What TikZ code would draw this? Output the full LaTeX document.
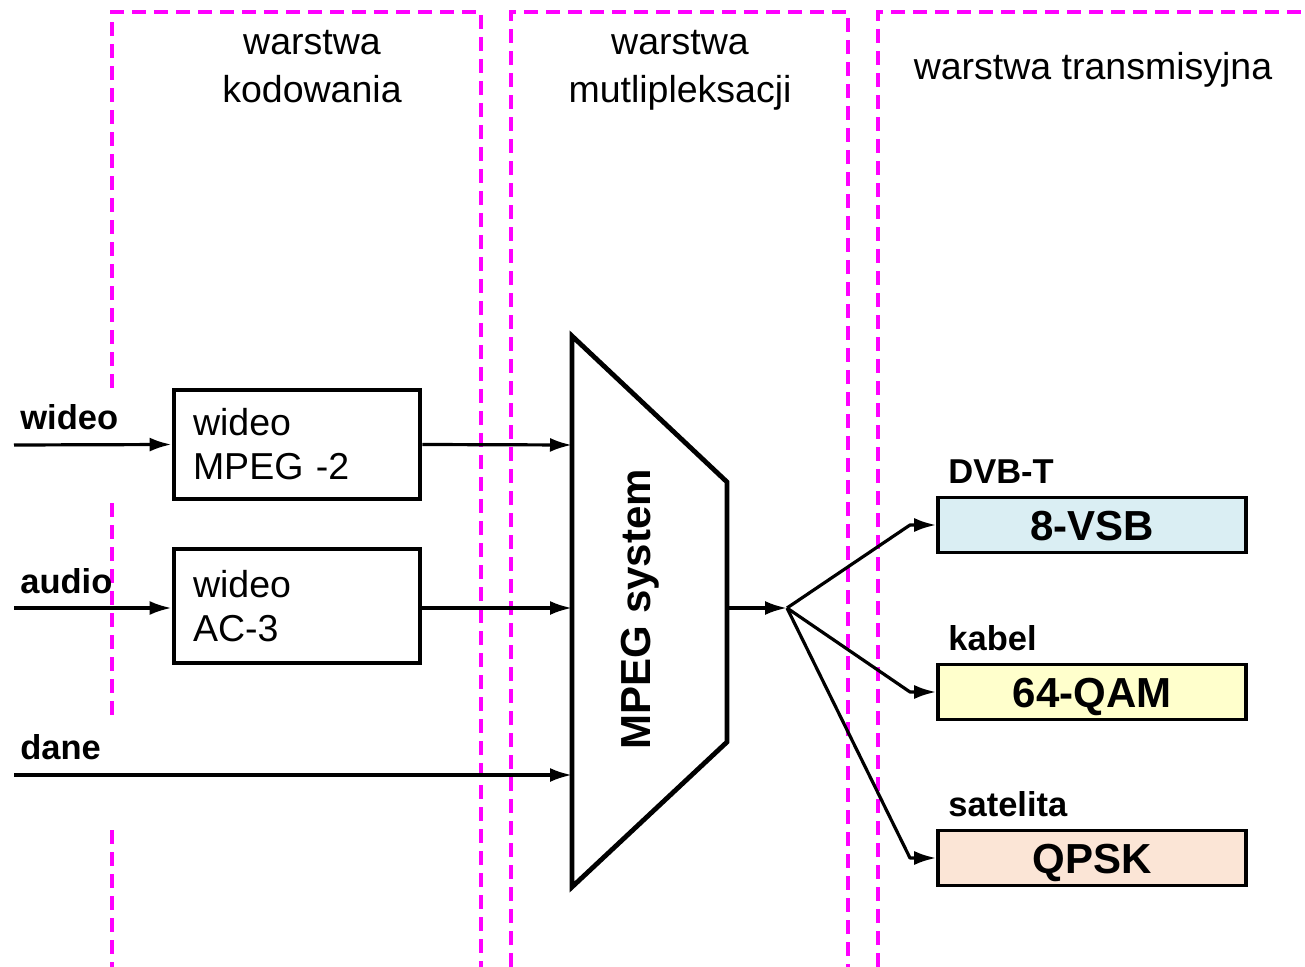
\documentclass[tikz,border=0pt]{standalone}
\usepackage{fontspec}
\setmainfont{Liberation Sans}
\usetikzlibrary{arrows.meta}
\definecolor{layerline}{RGB}{255,0,255}
\definecolor{vsbfill}{RGB}{218,238,243}
\definecolor{qamfill}{RGB}{255,255,204}
\definecolor{qpskfill}{RGB}{251,229,214}
\begin{document}
\begin{tikzpicture}[x=0.5pt,y=-0.5pt,
  layer/.style={draw=layerline, line width=1.8pt, dash pattern=on 7pt off 4pt},
  conn/.style={line width=1.6pt, line join=round, -{Latex[length=11pt,width=7pt]}},
  header/.style={font=\fontsize{18.75pt}{22pt}\selectfont, inner sep=0pt, anchor=base},
  inlabel/.style={font=\fontsize{17.25pt}{20pt}\selectfont\bfseries, inner sep=0pt, anchor=base west},
  coder/.style={draw, line width=2.4pt, text width=104pt, inner xsep=9.5pt, align=left,
    minimum width=123pt, font=\fontsize{18.75pt}{22pt}\selectfont},
  modbox/.style={draw, line width=1.8pt, minimum width=154pt, minimum height=27.5pt,
    inner sep=0pt, text height=15pt, text depth=0pt,
    font=\fontsize{21pt}{24pt}\selectfont\bfseries},
]
\useasboundingbox (0,0) rectangle (1305,967);

% layer frames
\draw[layer] (112,388) -- (112,12) -- (481,12) -- (481,967);
\draw[layer] (112,503) -- (112,722);
\draw[layer] (112,830) -- (112,967);
\draw[layer] (511,967) -- (511,12) -- (848,12) -- (848,967);
\draw[layer] (878,967) -- (878,12) -- (1305,12);

% layer titles
\node[header] (h1a) at (312,55) {warstwa};
\node[header] (h1b) at (312,103) {kodowania};
\node[header] (h2a) at (680,55) {warstwa};
\node[header] (h2b) at (680,103) {mutlipleksacji};
\node[header] (h3) at (1093,80) {warstwa transmisyjna};

% input labels
\node[inlabel] (lw) at (20,430) {wideo};
\node[inlabel] (la) at (20,593) {audio};
\node[inlabel] (ld) at (20,759) {dane};

% coders
\node[coder, minimum height=54.5pt] (cod1) at (297,444.5) {wideo\\MPEG -2};
\node[coder, minimum height=57pt] (cod2) at (297,606) {wideo\\AC-3};

% multiplexer
\draw[line width=2.4pt, line join=miter] (572,336) -- (727,482) -- (727,742) -- (572,887) -- cycle;
\node[font=\fontsize{21pt}{24pt}\selectfont\bfseries, rotate=90, anchor=base, inner sep=0pt] (mux) at (650,609) {MPEG system};
\coordinate (mx1) at (572,445);
\coordinate (mx2) at (572,608);
\coordinate (mx3) at (572,775);
\coordinate (mxo) at (727,608);
\coordinate (fan) at (787,608);

% inputs
\coordinate (in1) at (14,445);
\coordinate (in2) at (14,608);
\coordinate (in3) at (14,775);

% modulators
\node[modbox, fill=vsbfill] (vsb) at (1092,525) {8-VSB};
\node[modbox, fill=qamfill] (qam) at (1092,692) {64-QAM};
\node[modbox, fill=qpskfill] (qpsk) at (1092,858) {QPSK};
\node[inlabel] (lt) at (948,484) {DVB-T};
\node[inlabel] (lk) at (948,650) {kabel};
\node[inlabel] (ls) at (948,816) {satelita};
\coordinate (b1) at (910,525);
\coordinate (b2) at (910,692);
\coordinate (b3) at (910,858);

% connectors
\draw[conn] (in1) -- (cod1.west);
\draw[conn] (in2) -- (cod2.west |- in2);
\draw[conn] (cod1.east) -- (mx1);
\draw[conn] (cod2.east |- mx2) -- (mx2);
\draw[conn] (in3) -- (mx3);
\draw[conn] (mxo) -- (fan);
\draw[conn] (fan) -- (b1) -- (vsb.west);
\draw[conn] (fan) -- (b2) -- (qam.west);
\draw[conn] (fan) -- (b3) -- (qpsk.west);
\end{tikzpicture}
\end{document}
